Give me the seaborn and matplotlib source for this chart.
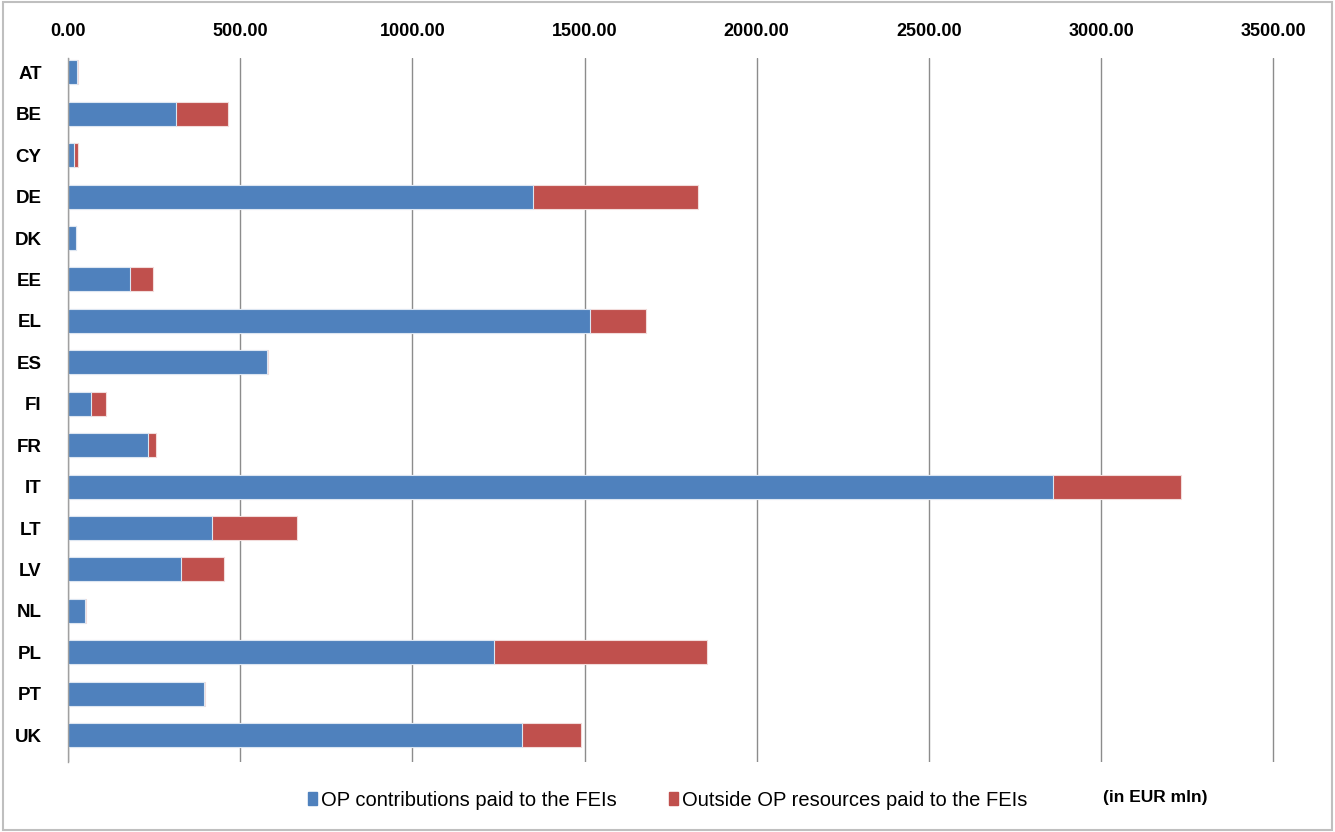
import matplotlib
matplotlib.use("Agg")
import matplotlib.pyplot as plt
import matplotlib.patches as mpatches
import seaborn as sns
import pandas as pd

countries = ["AT", "BE", "CY", "DE", "DK", "EE", "EL", "ES", "FI", "FR",
             "IT", "LT", "LV", "NL", "PL", "PT", "UK"]
op_contrib = [25, 314, 17, 1350, 23, 181, 1516, 579, 68, 233,
              2860, 418, 327, 48, 1236, 395, 1317]
outside_op = [3, 150, 11, 478, 1, 67, 162, 2, 41, 22,
              371, 247, 127, 3, 621, 4, 173]
x_ticks = [0, 500, 1000, 1500, 2000, 2500, 3000, 3500]

BLUE = "#4F81BD"
RED = "#C0504D"

df = pd.DataFrame({"country": countries, "op": op_contrib, "outside": outside_op})
df["total"] = df["op"] + df["outside"]

sns.set_style("white")
plt.rcParams["font.family"] = ["Liberation Sans", "DejaVu Sans"]
plt.rcParams["text.color"] = "black"
plt.rcParams["xtick.color"] = "black"
plt.rcParams["ytick.color"] = "black"

fig = plt.figure(figsize=(13.35, 8.32), dpi=100)
ax = fig.add_axes([0.051, 0.084, 0.904, 0.846])

sns.barplot(data=df, y="country", x="total", color=RED, orient="h",
            width=0.58, edgecolor="#F2DCDB", linewidth=0.8, ax=ax, saturation=1)
sns.barplot(data=df, y="country", x="op", color=BLUE, orient="h",
            width=0.58, edgecolor="#DCE6F2", linewidth=0.8, ax=ax, saturation=1)

ax.set_xlim(0, 3505)
ax.set_ylim(16.65, -0.34)
ax.set_xticks(x_ticks)
ax.set_xticklabels([f"{v:.2f}" for v in x_ticks], fontsize=13, fontweight="bold")
ax.xaxis.tick_top()
ax.tick_params(axis="x", length=0, pad=13)
ax.tick_params(axis="y", length=0, pad=19, labelsize=13.5)
for lbl in ax.get_yticklabels():
    lbl.set_fontweight("bold")
ax.set_xlabel("")
ax.set_ylabel("")
ax.xaxis.grid(True, color="#8C8C8C", linewidth=1)
ax.set_axisbelow(True)
for side in ["top", "right", "bottom"]:
    ax.spines[side].set_visible(False)
ax.spines["left"].set_color("#A0A0A0")
ax.spines["left"].set_linewidth(1)

handles = [mpatches.Patch(color=BLUE, label="OP contributions paid to the FEIs"),
           mpatches.Patch(color=RED, label="Outside OP resources paid to the FEIs")]
fig.legend(handles=handles, loc="center", bbox_to_anchor=(0.50, 0.038), ncol=2,
           frameon=False, fontsize=14.5, handlelength=0.45, handleheight=0.6,
           handletextpad=0.2, columnspacing=2.6)
fig.text(0.865, 0.042, "(in EUR mln)", fontsize=12.5, fontweight="bold",
         ha="center", va="center")

fig.patches.append(mpatches.Rectangle((0.002, 0.002), 0.996, 0.996, transform=fig.transFigure,
                                      fill=False, edgecolor="#BFBFBF", linewidth=1.5))

fig.savefig("out.png", dpi=100)
plt.close(fig)
